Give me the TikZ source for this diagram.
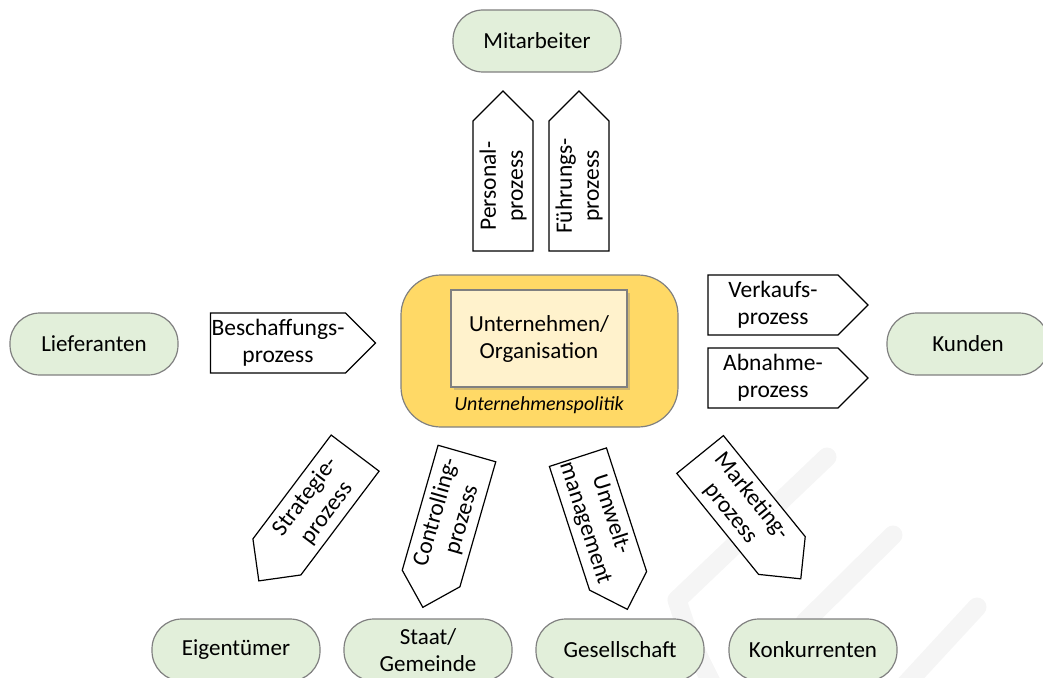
\documentclass[tikz,border=0pt]{standalone}
\usepackage{fontspec}
\setmainfont{Carlito}
\usepackage{tikz}
\usetikzlibrary{shapes.symbols,shadows,positioning}

\definecolor{partnergreen}{HTML}{E2EFDA}
\definecolor{framegray}{HTML}{808080}
\definecolor{policyyellow}{HTML}{FFD966}
\definecolor{companycream}{HTML}{FFF2CC}

\tikzset{
  partner/.style={rectangle, rounded corners=30pt, draw=framegray, fill=partnergreen, line width=1.2pt,
    minimum width=168pt, minimum height=62pt, align=center, font=\fontsize{23}{27}\selectfont},
  proc/.style={signal, signal to=east, draw=black, fill=white, line width=1.2pt,
    minimum width=160pt, minimum height=60pt, inner sep=1pt, align=center, font=\fontsize{23.5}{27}\selectfont},
  wmark/.style={draw=black!4, line width=19pt, line cap=round, line join=round}
}

\begin{document}
\begin{tikzpicture}[x=1pt, y=1pt]
  \useasboundingbox (0,0) rectangle (1043,-677);

  % watermark
  \draw[wmark] (827,-457) -- (677,-600) .. controls (690,-640) .. (715,-690);
  \draw[wmark] (893,-535) -- (805,-622);
  \draw[wmark] (977,-607) -- (905,-685);

  % center
  \node[rectangle, rounded corners=40pt, draw=framegray, fill=policyyellow, line width=1.2pt,
    minimum width=277pt, minimum height=152pt] (politik) at (539.5,-351) {};
  \node[rectangle, draw=framegray, fill=companycream, line width=1.2pt, minimum width=176pt, minimum height=97pt,
    align=center, font=\fontsize{23}{27}\selectfont,
    drop shadow={opacity=0.35, shadow xshift=3pt, shadow yshift=-3pt}] (firma) at (539,-338.5) {Unternehmen/\\Organisation};
  \node[font=\fontsize{20}{24}\selectfont\itshape] (politiktext) at (539,-405) {Unternehmenspolitik};

  % partners
  \node[partner] (mitarbeiter) at (537,-41) {Mitarbeiter};
  \node[partner] (lieferanten) at (94,-344) {Lieferanten};
  \node[partner, minimum width=162pt] (kunden) at (968,-344) {Kunden};
  \node[partner] (eigentuemer) at (236,-650) {Eigentümer};
  \node[partner] (staat) at (428,-650) {Staat/\\Gemeinde};
  \node[partner] (gesellschaft) at (620,-650) {Gesellschaft};
  \node[partner] (konkurrenten) at (813,-650) {Konkurrenten};

  % processes
  \node[proc, rotate=90] (personal) at (503,-186) {Personal-\\prozess};
  \node[proc, rotate=90] (fuehrung) at (579,-186) {Führungs-\\prozess};
  \node[proc] (beschaffung) at (278,-343) {Beschaffungs-\\prozess};
  \node[proc] (verkauf) at (773,-305) {Verkaufs-\\prozess};
  \node[proc] (abnahme) at (773,-378) {Abnahme-\\prozess};
  \node[proc, signal to=west, rotate=53] (strategie) at (316,-505) {Strategie-\\prozess};
  \node[proc, signal to=west, rotate=74] (controlling) at (449,-516) {Controlling-\\prozess};
  \node[proc, rotate=-72] (umwelt) at (598,-519) {Umwelt-\\management};
  \node[proc, rotate=-51] (marketing) at (741,-505) {Marketing-\\prozess};
\end{tikzpicture}
\end{document}
